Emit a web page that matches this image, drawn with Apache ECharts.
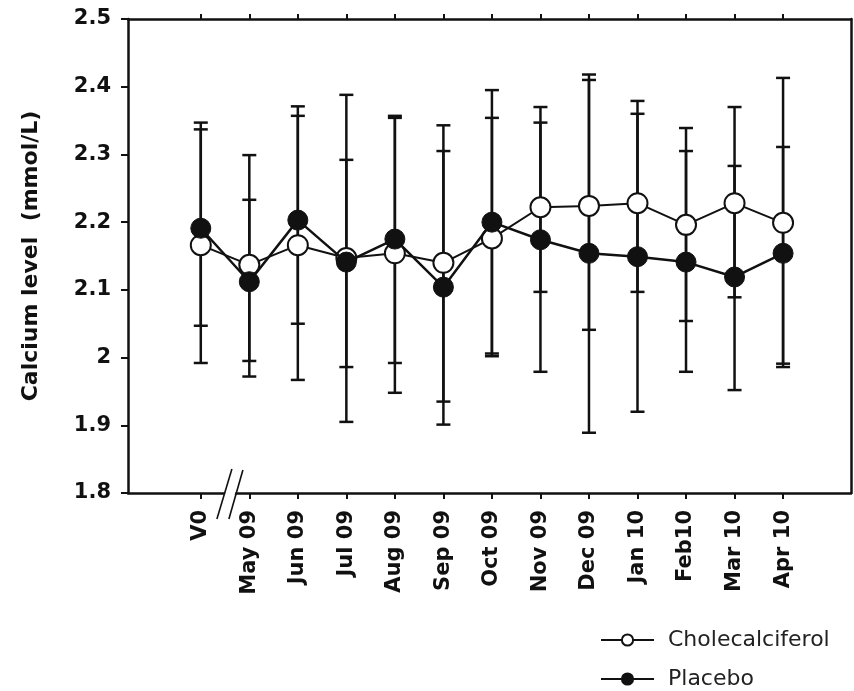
<!DOCTYPE html>
<html>
<head>
<meta charset="utf-8">
<script src="https://cdn.jsdelivr.net/npm/echarts@6/dist/echarts.min.js"></script>
<style>
  html, body { margin: 0; background: #fff; }
  #chart { width: 854px; height: 691px; }
</style>
</head>
<body>
<div id="chart"></div>
<script>
// visits
const months = ['V0', 'May 09', 'Jun 09', 'Jul 09', 'Aug 09', 'Sep 09', 'Oct 09',
  'Nov 09', 'Dec 09', 'Jan 10', 'Feb10', 'Mar 10', 'Apr 10']
// Cholecalciferol: mean and error bar ends
const choleMean = [2.166, 2.137, 2.166, 2.147, 2.154, 2.140, 2.176, 2.222, 2.224, 2.228, 2.196, 2.228, 2.199]
const choleHigh = [2.337, 2.299, 2.371, 2.292, 2.354, 2.343, 2.354, 2.347, 2.410, 2.360, 2.339, 2.370, 2.413]
const choleLow = [1.992, 1.972, 1.967, 1.986, 1.948, 1.935, 2.002, 2.097, 2.041, 2.097, 2.054, 2.089, 1.986]
// Placebo: mean and error bar ends
const placeboMean = [2.191, 2.112, 2.203, 2.141, 2.175, 2.104, 2.200, 2.174, 2.154, 2.149, 2.141, 2.119, 2.154]
const placeboHigh = [2.347, 2.233, 2.357, 2.388, 2.357, 2.305, 2.395, 2.370, 2.418, 2.379, 2.305, 2.283, 2.311]
const placeboLow = [2.047, 1.995, 2.050, 1.905, 1.992, 1.901, 2.006, 1.979, 1.889, 1.920, 1.979, 1.952, 1.991]
// axis
const yMin = 1.8
const yMax = 2.5
const yStep = 0.1
const xMin = -1.5
const xMax = 13.4
const breakAt = 0.6 // axis break between V0 and May 09

const boldFont = '"DejaVu Sans", "Liberation Sans", Arial, sans-serif'
const ink = '#111'
const positions = months.map((m, i) => i)

const chart = echarts.init(document.getElementById('chart'))

// vertical error bar with caps
function renderErrorBar(params, api) {
  const x = api.value(0)
  const lo = api.coord([x, api.value(1)])
  const hi = api.coord([x, api.value(2)])
  const w = 7
  const style = {stroke: ink, lineWidth: 2.5}
  return {
    type: 'group',
    children: [
      {type: 'line', shape: {x1: lo[0], y1: lo[1], x2: hi[0], y2: hi[1]}, style},
      {type: 'line', shape: {x1: hi[0] - w, y1: hi[1], x2: hi[0] + w, y2: hi[1]}, style},
      {type: 'line', shape: {x1: lo[0] - w, y1: lo[1], x2: lo[0] + w, y2: lo[1]}, style}
    ]
  }
}

// the "//" mark on the bottom axis
function renderBreak(params, api) {
  const p = api.coord([api.value(0), api.value(1)])
  const style = {stroke: ink, lineWidth: 1.6}
  return {
    type: 'group',
    children: [
      {type: 'polygon', shape: {points: [[p[0] - 12, p[1] + 24], [p[0] + 2, p[1] - 22], [p[0] + 12, p[1] - 22], [p[0] - 2, p[1] + 24]]},
        style: {fill: '#fff'}},
      {type: 'line', shape: {x1: p[0] - 13, y1: p[1] + 26, x2: p[0] + 2, y2: p[1] - 24}, style},
      {type: 'line', shape: {x1: p[0] - 1, y1: p[1] + 26, x2: p[0] + 13, y2: p[1] - 23}, style}
    ]
  }
}

function legendAt(name, top) {
  return {
    left: 595,
    top: top,
    itemWidth: 53,
    itemHeight: 14,
    textStyle: {fontFamily: boldFont, fontSize: 22, color: '#222', padding: [0, 0, 0, 9]},
    data: [name]
  }
}

const option = {
  backgroundColor: '#fff',
  animation: false,
  textStyle: {fontFamily: boldFont, color: ink},
  grid: {left: 128, right: 3, top: 19, bottom: 198},
  legend: [legendAt('Cholecalciferol', 624), legendAt('Placebo', 663)],
  xAxis: [
    {
      type: 'value',
      min: xMin,
      max: xMax,
      position: 'bottom',
      splitLine: {show: false},
      axisLine: {onZero: false, lineStyle: {color: ink, width: 2.5}},
      axisTick: {show: true, length: 6, customValues: positions, lineStyle: {color: ink, width: 2}},
      axisLabel: {
        customValues: positions,
        rotate: 90,
        margin: 17,
        fontSize: 21,
        fontWeight: 'bold',
        color: ink,
        formatter: (v) => months[Math.round(v)]
      }
    },
    {
      type: 'value',
      min: xMin,
      max: xMax,
      position: 'top',
      splitLine: {show: false},
      axisLine: {onZero: false, lineStyle: {color: ink, width: 2.5}},
      axisTick: {show: true, length: 5, customValues: positions, lineStyle: {color: ink, width: 2}},
      axisLabel: {show: false}
    }
  ],
  yAxis: [
    {
      type: 'value',
      min: yMin,
      max: yMax,
      interval: yStep,
      name: 'Calcium level  (mmol/L)',
      nameLocation: 'middle',
      nameGap: 86,
      nameTextStyle: {fontSize: 22, fontWeight: 'bold', color: ink},
      splitLine: {show: false},
      axisLine: {show: true, onZero: false, lineStyle: {color: ink, width: 2.5}},
      axisTick: {show: true, length: 7, lineStyle: {color: ink, width: 2}},
      axisLabel: {
        margin: 17,
        fontSize: 21,
        fontWeight: 'bold',
        color: ink,
        formatter: (v) => String(Number(v.toFixed(1)))
      }
    },
    {
      type: 'value',
      min: yMin,
      max: yMax,
      position: 'right',
      splitLine: {show: false},
      axisLine: {show: true, onZero: false, lineStyle: {color: ink, width: 2.5}},
      axisTick: {show: false},
      axisLabel: {show: false}
    }
  ],
  series: [
    {
      name: 'Cholecalciferol err',
      type: 'custom',
      renderItem: renderErrorBar,
      data: months.map((m, i) => [i, choleLow[i], choleHigh[i]]),
      z: 2
    },
    {
      name: 'Placebo err',
      type: 'custom',
      renderItem: renderErrorBar,
      data: months.map((m, i) => [i, placeboLow[i], placeboHigh[i]]),
      z: 2
    },
    {
      name: 'Cholecalciferol',
      type: 'line',
      data: months.map((m, i) => [i, choleMean[i]]),
      symbol: 'circle',
      symbolSize: 20,
      itemStyle: {color: '#fff', borderColor: ink, borderWidth: 2},
      lineStyle: {color: ink, width: 2},
      z: 3
    },
    {
      name: 'Placebo',
      type: 'line',
      data: months.map((m, i) => [i, placeboMean[i]]),
      symbol: 'circle',
      symbolSize: 20,
      itemStyle: {color: ink, borderColor: ink, borderWidth: 1},
      lineStyle: {color: ink, width: 2.5},
      z: 4
    },
    {
      name: 'break',
      type: 'custom',
      renderItem: renderBreak,
      clip: false,
      silent: true,
      data: [[breakAt, yMin]],
      z: 10
    }
  ]
}

chart.setOption(option)
</script>
</body>
</html>
